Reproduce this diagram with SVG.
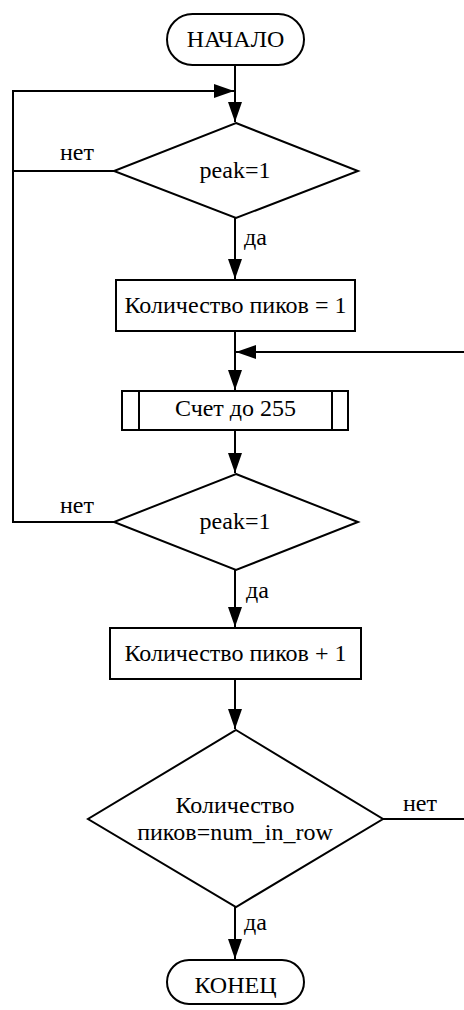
<svg xmlns="http://www.w3.org/2000/svg" width="464" height="1010" viewBox="0 0 464 1010">
<style>
.s{fill:#fff;stroke:#000;stroke-width:2}
.l{fill:none;stroke:#000;stroke-width:2}
.c{text-anchor:middle}
text{font-family:"Liberation Serif","Times New Roman",serif;font-size:24px;fill:#000}
</style>
<defs>
<marker id="a" markerUnits="userSpaceOnUse" markerWidth="20" markerHeight="14" refX="20" refY="7" orient="auto">
<path d="M0,0 L20,7 L0,14 Z" fill="#000"/>
</marker>
</defs>
<rect width="464" height="1010" fill="#fff"/>
<g id="connectors">
<path class="l" d="M235,66 V122" marker-end="url(#a)"/>
<path class="l" d="M114,171 H13 V91 H234" marker-end="url(#a)"/>
<path class="l" d="M235,218 V279" marker-end="url(#a)"/>
<path class="l" d="M235,331 V390" marker-end="url(#a)"/>
<path class="l" d="M466,819 V352 H236" marker-end="url(#a)"/>
<path class="l" d="M235,430 V473" marker-end="url(#a)"/>
<path class="l" d="M114,522 H13 V171"/>
<path class="l" d="M235,570 V627" marker-end="url(#a)"/>
<path class="l" d="M235,679 V729" marker-end="url(#a)"/>
<path class="l" d="M383,819 H466"/>
<path class="l" d="M235,907 V959" marker-end="url(#a)"/>
<text x="60" y="160">нет</text>
<text x="244" y="245">да</text>
<text x="60" y="513">нет</text>
<text x="246" y="598">да</text>
<text x="403" y="811">нет</text>
<text x="244" y="930">да</text>
</g>
<g id="start">
<rect class="s" x="167" y="14" width="137" height="51" rx="25.5"/>
<text class="c" x="235.5" y="47">НАЧАЛО</text>
</g>
<g id="dec1">
<polygon class="s" points="236,123 358,171 236,218 114,171"/>
<text class="c" x="235" y="178">peak=1</text>
</g>
<g id="count1">
<rect class="s" x="116" y="280" width="239" height="51"/>
<text class="c" x="235.5" y="313">Количество пиков = 1</text>
</g>
<g id="sub">
<rect class="s" x="122" y="391" width="226" height="39"/>
<line class="l" x1="139" y1="391" x2="139" y2="430"/>
<line class="l" x1="332" y1="391" x2="332" y2="430"/>
<text class="c" x="235.5" y="416">Счет до 255</text>
</g>
<g id="dec2">
<polygon class="s" points="236,474 358,522 236,570 114,522"/>
<text class="c" x="235" y="529">peak=1</text>
</g>
<g id="count2">
<rect class="s" x="110" y="628" width="251" height="51"/>
<text class="c" x="235.5" y="661">Количество пиков + 1</text>
</g>
<g id="dec3">
<polygon class="s" points="236,730 383,819 236,907 88,819"/>
<text class="c" x="235" y="813">Количество</text>
<text class="c" x="235" y="840">пиков=num_in_row</text>
</g>
<g id="end">
<rect class="s" x="167" y="960" width="137" height="44" rx="22"/>
<text class="c" x="235.5" y="993">КОНЕЦ</text>
</g>
</svg>
